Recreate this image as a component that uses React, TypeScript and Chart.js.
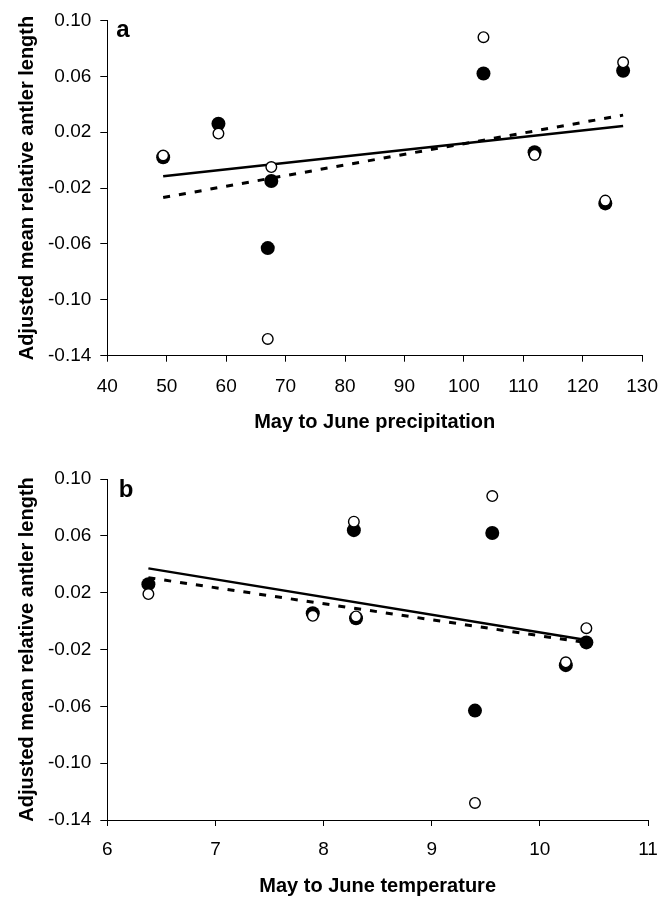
import React, { useEffect, useRef } from "react";
import { Chart, registerables } from "chart.js";

Chart.register(...registerables);

// ---- Data ----
const precipitation = [49.4, 58.7, 67.6, 67.0, 103.3, 111.9, 123.8, 126.8];
const temperature = [8.3, 6.38, 10.43, 9.4, 9.56, 7.9, 10.24, 8.28];
const filledValues = [0.002, 0.026, -0.015, -0.063, 0.062, 0.0056, -0.031, 0.064];
const openValues = [0.0033, 0.019, -0.005, -0.128, 0.088, 0.0037, -0.029, 0.07];

// regression line end points
const precipLineX = [49.4, 126.8];
const precipSolidY = [-0.0115, 0.0244];
const precipDashY = [-0.0268, 0.0322];
const tempLineX = [6.38, 10.43];
const tempSolidY = [0.0371, -0.0133];
const tempDashY = [0.0305, -0.0152];

const yTicks = [-0.14, -0.1, -0.06, -0.02, 0.02, 0.06, 0.1];
const precipTicks = [40, 50, 60, 70, 80, 90, 100, 110, 120, 130];
const tempTicks = [6, 7, 8, 9, 10, 11];

const yTitle = "Adjusted mean relative antler length";
const FONT = '"Liberation Sans", Arial, Helvetica, sans-serif';

const zip = (xs: number[], ys: number[]) => xs.map((x, i) => ({ x, y: ys[i] }));

const panelLabel = {
  id: "panelLabel",
  afterDraw(chart: any, _args: any, opts: any) {
    const { ctx, chartArea } = chart;
    ctx.save();
    ctx.font = `bold 24px ${FONT}`;
    ctx.fillStyle = "#000";
    ctx.textBaseline = "alphabetic";
    ctx.textAlign = "left";
    ctx.fillText(opts.text, chartArea.left + opts.dx, chartArea.top + opts.dy);
    ctx.restore();
  },
};

type Cfg = {
  xs: number[];
  lineX: number[];
  solidY: number[];
  dashY: number[];
  xTicks: number[];
  xTitle: string;
  letter: string;
  letterDx: number;
  letterDy: number;
  padTop: number;
  padRight: number;
  xAxisHeight: number;
  xTitlePadBottom: number;
  xTickPad: number;
};

function makeConfig(c: Cfg): any {
  const xMin = c.xTicks[0];
  const xMax = c.xTicks[c.xTicks.length - 1];
  const xStep = c.xTicks[1] - c.xTicks[0];
  return {
    type: "scatter",
    data: {
      datasets: [
        {
          label: "open",
          data: zip(c.xs, openValues),
          pointRadius: 5.3,
          pointBackgroundColor: "#fff",
          pointBorderColor: "#000",
          pointBorderWidth: 1.4,
          showLine: false,
          clip: false,
        },
        {
          label: "filled",
          data: zip(c.xs, filledValues),
          pointRadius: 7,
          pointBackgroundColor: "#000",
          pointBorderColor: "#000",
          pointBorderWidth: 0,
          showLine: false,
          clip: false,
        },
        {
          label: "solid fit",
          data: zip(c.lineX, c.solidY),
          showLine: true,
          borderColor: "#000",
          borderWidth: 2.5,
          pointRadius: 0,
          fill: false,
          clip: false,
        },
        {
          label: "dashed fit",
          data: zip(c.lineX, c.dashY),
          showLine: true,
          borderColor: "#000",
          borderWidth: 3,
          borderDash: [7, 9],
          pointRadius: 0,
          fill: false,
          clip: false,
        },
      ],
    },
    options: {
      animation: false,
      responsive: false,
      devicePixelRatio: 1,
      events: [],
      layout: { padding: { top: c.padTop, right: c.padRight, bottom: 0, left: 0 } },
      plugins: {
        legend: { display: false },
        tooltip: { enabled: false },
        panelLabel: { text: c.letter, dx: c.letterDx, dy: c.letterDy },
      },
      scales: {
        x: {
          type: "linear",
          min: xMin,
          max: xMax,
          afterFit: (s: any) => {
            s.height = c.xAxisHeight;
          },
          afterBuildTicks: (s: any) => {
            s.ticks = c.xTicks.map((v) => ({ value: v }));
          },
          ticks: {
            stepSize: xStep,
            autoSkip: false,
            maxRotation: 0,
            color: "#000",
            padding: c.xTickPad,
            font: { family: FONT, size: 19 },
            callback: (v: any) => String(v),
          },
          grid: {
            display: true,
            drawOnChartArea: false,
            drawTicks: true,
            tickLength: 6,
            tickColor: "#000",
            tickWidth: 1,
          },
          border: { display: true, color: "#000", width: 1 },
          title: {
            display: true,
            text: c.xTitle,
            color: "#000",
            font: { family: FONT, size: 20, weight: "bold" },
            padding: { top: 0, bottom: c.xTitlePadBottom },
          },
        },
        y: {
          type: "linear",
          min: yTicks[0],
          max: yTicks[yTicks.length - 1],
          afterFit: (s: any) => {
            s.width = 107.3;
          },
          afterBuildTicks: (s: any) => {
            s.ticks = yTicks.map((v) => ({ value: v }));
          },
          ticks: {
            stepSize: 0.04,
            autoSkip: false,
            color: "#000",
            padding: 9,
            font: { family: FONT, size: 19 },
            callback: (v: any) => Number(v).toFixed(2),
          },
          grid: {
            display: true,
            drawOnChartArea: false,
            drawTicks: true,
            tickLength: 7,
            tickColor: "#000",
            tickWidth: 1,
          },
          border: { display: true, color: "#000", width: 1 },
          title: {
            display: true,
            text: yTitle,
            color: "#000",
            font: { family: FONT, size: 20, weight: "bold" },
            padding: { top: 15, bottom: 0 },
          },
        },
      },
    },
    plugins: [panelLabel],
  };
}

export default function App() {
  const refA = useRef<HTMLCanvasElement>(null);
  const refB = useRef<HTMLCanvasElement>(null);

  useEffect(() => {
    const a = new Chart(
      refA.current as HTMLCanvasElement,
      makeConfig({
        xs: precipitation,
        lineX: precipLineX,
        solidY: precipSolidY,
        dashY: precipDashY,
        xTicks: precipTicks,
        xTitle: "May to June precipitation",
        letter: "a",
        letterDx: 9,
        letterDy: 17,
        padTop: 15,
        padRight: 29.3,
        xAxisHeight: 93.3,
        xTitlePadBottom: 15,
        xTickPad: 14,
      })
    );
    const b = new Chart(
      refB.current as HTMLCanvasElement,
      makeConfig({
        xs: temperature,
        lineX: tempLineX,
        solidY: tempSolidY,
        dashY: tempDashY,
        xTicks: tempTicks,
        xTitle: "May to June temperature",
        letter: "b",
        letterDx: 11.5,
        letterDy: 18,
        padTop: 30,
        padRight: 24,
        xAxisHeight: 78,
        xTitlePadBottom: 0,
        xTickPad: 12,
      })
    );
    return () => {
      a.destroy();
      b.destroy();
    };
  }, []);

  return (
    <div
      style={{
        position: "absolute",
        left: 0,
        top: 0,
        width: 672,
        height: 898,
        background: "#fff",
      }}
    >
      <canvas ref={refA} width={672} height={449} style={{ display: "block", width: 672, height: 449 }} />
      <canvas ref={refB} width={672} height={449} style={{ display: "block", width: 672, height: 449 }} />
    </div>
  );
}
